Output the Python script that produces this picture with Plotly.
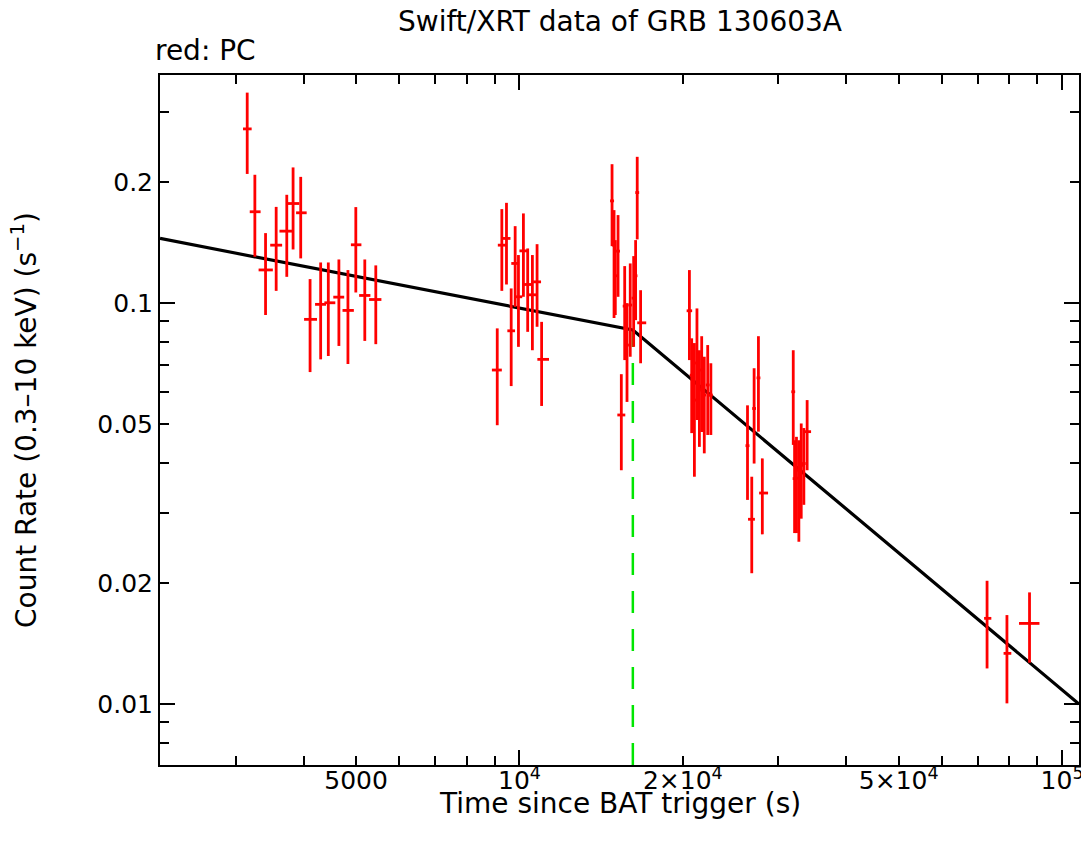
import plotly.graph_objects as go

# ---- Swift/XRT PC-mode light curve of GRB 130603A ----
time_s = [3150, 3254, 3405, 3562, 3726, 3827, 3953, 4113, 4302, 4444, 4648, 4830, 4994, 5188, 5436,
          9101, 9280, 9465, 9656, 9820, 9958, 10170, 10356, 10565, 10777, 10987,
          14813, 14940, 15020, 15196, 15408, 15630, 15785, 16003, 16236, 16372, 16484, 16723,
          20570, 20770, 21010, 21240, 21460, 21670, 21910, 22230, 22530,
          26320, 26800, 27070, 27570, 28030,
          31960, 32140, 32400, 32730, 33060, 33430, 33900,
          72740, 79140, 87100]
time_lo = [3094, 3184, 3306, 3473, 3612, 3741, 3876, 4010, 4201, 4370, 4539, 4720, 4891, 5065, 5284,
           8897, 9124, 9306, 9500, 9660, 9800, 10000, 10190, 10390, 10600, 10790,
           14690, 14820, 14900, 15070, 15150, 15500, 15660, 15870, 16100, 16240, 16350, 16484,
           20330, 20600, 20840, 21070, 21290, 21500, 21740, 22050, 22350,
           26100, 26380, 26850, 27350, 27650,
           31700, 31880, 32140, 32470, 32800, 33170, 33330,
           71830, 78020, 83300]
time_hi = [3210, 3334, 3512, 3653, 3821, 3930, 4054, 4236, 4401, 4578, 4754, 4953, 5114, 5313, 5567,
           9280, 9438, 9627, 9815, 9985, 10120, 10340, 10530, 10740, 10960, 11337,
           14940, 15060, 15140, 15320, 15670, 15760, 15910, 16130, 16370, 16500, 16620, 17125,
           20810, 20940, 21180, 21410, 21630, 21840, 22080, 22410, 22710,
           26540, 27160, 27290, 27800, 28720,
           32220, 32400, 32660, 32990, 33320, 33690, 34470,
           74070, 80620, 90850]
rate = [0.272, 0.169, 0.121, 0.1395, 0.1512, 0.1772, 0.168, 0.0911, 0.0993, 0.1002, 0.1035, 0.0959, 0.1398, 0.1045, 0.1021,
        0.0681, 0.1395, 0.1450, 0.0853, 0.1256, 0.1037, 0.1350, 0.1113, 0.1049, 0.1130, 0.0724,
        0.1799, 0.1395, 0.1170, 0.1348, 0.0526, 0.0983, 0.0786, 0.0989, 0.1029, 0.1170, 0.1887, 0.0893,
        0.0957, 0.0661, 0.0573, 0.0709, 0.0607, 0.0681, 0.0590, 0.0625, 0.0590,
        0.0441, 0.0289, 0.0546, 0.0651, 0.0336,
        0.0601, 0.0365, 0.0383, 0.0366, 0.0394, 0.0398, 0.0478,
        0.01636, 0.01338, 0.01589]
rate_hi = [0.335, 0.209, 0.1495, 0.1738, 0.1863, 0.218, 0.2065, 0.1148, 0.1263, 0.1263, 0.1285, 0.1209, 0.1736, 0.1285, 0.1242,
           0.0865, 0.1716, 0.1779, 0.1088, 0.1556, 0.1318, 0.1674, 0.1369, 0.1318, 0.1403, 0.0898,
           0.2221, 0.1706, 0.1436, 0.1658, 0.0665, 0.1237, 0.1000, 0.1256, 0.1310, 0.1436, 0.2317, 0.1077,
           0.1209, 0.0817, 0.0795, 0.0970, 0.0763, 0.0827, 0.0735, 0.0786, 0.0708,
           0.0556, 0.0369, 0.0688, 0.0827, 0.0410,
           0.0763, 0.0455, 0.0464, 0.0455, 0.0501, 0.0488, 0.0573,
           0.02030, 0.01667, 0.01899]
rate_lo = [0.210, 0.1305, 0.0934, 0.1073, 0.1163, 0.1361, 0.1293, 0.0673, 0.0724, 0.0738, 0.0782, 0.0705, 0.1063, 0.0805, 0.0790,
           0.0496, 0.1073, 0.1113, 0.0621, 0.0979, 0.0778, 0.1037, 0.0848, 0.0763, 0.0873, 0.0554,
           0.1387, 0.0918, 0.0934, 0.1037, 0.0383, 0.0721, 0.0567, 0.0735, 0.0778, 0.0907, 0.1442, 0.0708,
           0.0721, 0.0474, 0.0369, 0.0511, 0.0438, 0.0477, 0.0422, 0.0469, 0.0469,
           0.0323, 0.0212, 0.0398, 0.0478, 0.0265,
           0.0443, 0.0267, 0.0267, 0.0254, 0.0290, 0.0314, 0.0383,
           0.01227, 0.01004, 0.01268]

# broken power-law fit (nodes)
model_time = [2176, 16180, 107440]
model_rate = [0.145, 0.0857, 0.0100]
break_time = 16180
break_rate = 0.0857

# axis ticks
x_tickvals = [5000, 1e4, 2e4, 5e4, 1e5]
x_ticktext = ["5000", "10<sup>4</sup>", "2×10<sup>4</sup>", "5×10<sup>4</sup>", "10<sup>5</sup>"]
x_minor = [3000, 4000, 6000, 7000, 8000, 9000, 30000, 40000, 60000, 70000, 80000, 90000]
x_major_long = [1e4, 1e5]
y_tickvals = [0.01, 0.02, 0.05, 0.1, 0.2]
y_ticktext = ["0.01", "0.02", "0.05", "0.1", "0.2"]
y_minor = [0.008, 0.009, 0.03, 0.04, 0.06, 0.07, 0.08, 0.09, 0.3]
y_major_long = [0.01, 0.1]

x_range = [3.3376, 5.0312]
y_range = [-2.152, -0.431]
y_bottom = 10 ** y_range[0]

FONT = "DejaVu Sans, Liberation Sans, Arial, sans-serif"
FS_TICK = 25
FS_TEXT = 28

fig = go.Figure()

fig.add_trace(go.Scatter(
    x=[break_time, break_time], y=[y_bottom, break_rate], mode="lines",
    line=dict(color="#00e600", width=2.5, dash="22px,16px"), showlegend=False, hoverinfo="skip"))

fig.add_trace(go.Scatter(
    x=model_time, y=model_rate, mode="lines",
    line=dict(color="black", width=3.2), showlegend=False))

fig.add_trace(go.Scatter(
    x=time_s, y=rate, mode="markers",
    marker=dict(size=1, color="red"),
    error_x=dict(type="data", symmetric=False,
                 array=[h - t for h, t in zip(time_hi, time_s)],
                 arrayminus=[t - l for t, l in zip(time_s, time_lo)],
                 color="#ff0000", thickness=2.8, width=0),
    error_y=dict(type="data", symmetric=False,
                 array=[h - r for h, r in zip(rate_hi, rate)],
                 arrayminus=[r - l for r, l in zip(rate, rate_lo)],
                 color="#ff0000", thickness=2.8, width=0),
    showlegend=False))

# invisible trace on overlay axes (long decade ticks)
fig.add_trace(go.Scatter(x=[1e4], y=[0.1], xaxis="x2", yaxis="y2", mode="markers",
                         marker=dict(opacity=0), showlegend=False, hoverinfo="skip"))

common = dict(showline=True, linecolor="black", linewidth=2, mirror="allticks",
              ticks="inside", tickwidth=2, tickcolor="black", showgrid=False, zeroline=False)

# the page body adds an 8px margin, so the figure is 8px smaller than the window
fig.update_layout(
    width=1081, height=834,
    margin=dict(l=152, r=6, t=67, b=77),
    paper_bgcolor="white", plot_bgcolor="white",
    font=dict(family=FONT, size=FS_TICK, color="black"),
    xaxis=dict(type="log", range=x_range, ticklen=9, tickmode="array",
               tickvals=x_tickvals, ticktext=x_ticktext, tickfont=dict(size=FS_TICK),
               ticklabelstandoff=-8,
               minor=dict(ticks="inside", ticklen=9, tickwidth=2, tickcolor="black",
                          tickmode="array", tickvals=x_minor, showgrid=False),
               **common),
    yaxis=dict(type="log", range=y_range, ticklen=9, tickmode="array",
               tickvals=y_tickvals, ticktext=y_ticktext, tickfont=dict(size=FS_TICK),
               minor=dict(ticks="inside", ticklen=9, tickwidth=2, tickcolor="black",
                          tickmode="array", tickvals=y_minor, showgrid=False),
               **common),
    xaxis2=dict(type="log", range=x_range, overlaying="x", side="bottom", anchor="y2",
                ticklen=15, tickmode="array", tickvals=x_major_long, showticklabels=False,
                **common),
    yaxis2=dict(type="log", range=y_range, overlaying="y", side="left", anchor="x2",
                ticklen=15, tickmode="array", tickvals=y_major_long, showticklabels=False,
                **common),
    annotations=[
        dict(text="Swift/XRT data of GRB 130603A", xref="paper", yref="paper",
             x=0.5, y=1.0780, xanchor="center", yanchor="middle", showarrow=False,
             font=dict(size=FS_TEXT)),
        dict(text="red: PC", xref="paper", yref="paper",
             x=-0.0076, y=1.0362, xanchor="left", yanchor="middle", showarrow=False,
             font=dict(size=FS_TEXT)),
        dict(text="Time since BAT trigger (s)", xref="paper", yref="paper",
             x=0.5, y=-0.0565, xanchor="center", yanchor="middle", showarrow=False,
             font=dict(size=FS_TEXT)),
        dict(text="Count Rate (0.3–10 keV) (s<sup>−1</sup>)", xref="paper", yref="paper",
             x=-0.1480, y=0.5, xanchor="center", yanchor="middle", showarrow=False,
             textangle=-90, font=dict(size=FS_TEXT)),
    ],
)

fig.write_html("out.html")
